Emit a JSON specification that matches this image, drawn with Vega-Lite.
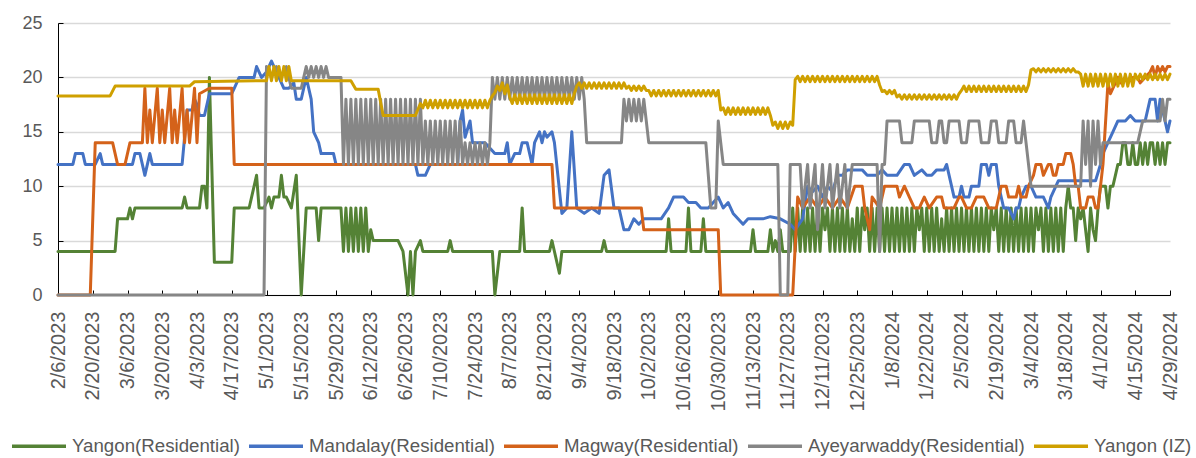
{
"$schema":"https://vega.github.io/schema/vega-lite/v6.json",
"width":1112,"height":272,
"autosize":{"type":"none"},
"padding":{"left":58,"top":23,"right":26,"bottom":163},
"background":"white",
"config":{"view":{"stroke":null},"font":"Liberation Sans"},
"datasets":{
"yr":[
{"d":"2023-02-06","v":4},{"d":"2023-03-01","v":4},{"d":"2023-03-02","v":7},{"d":"2023-03-06","v":7},{"d":"2023-03-07","v":8},{"d":"2023-03-08","v":7},{"d":"2023-03-09","v":8},{"d":"2023-03-28","v":8},{"d":"2023-03-29","v":9},{"d":"2023-03-30","v":8},{"d":"2023-04-04","v":8},{"d":"2023-04-05","v":10},{"d":"2023-04-06","v":10},{"d":"2023-04-07","v":8},{"d":"2023-04-08","v":20},{"d":"2023-04-10","v":3},{"d":"2023-04-17","v":3},{"d":"2023-04-18","v":8},{"d":"2023-04-24","v":8},{"d":"2023-04-25","v":9},{"d":"2023-04-27","v":11},{"d":"2023-04-28","v":8},{"d":"2023-04-30","v":8},{"d":"2023-05-02","v":9},{"d":"2023-05-03","v":8},{"d":"2023-05-04","v":9},{"d":"2023-05-06","v":9},{"d":"2023-05-07","v":11},{"d":"2023-05-08","v":9},{"d":"2023-05-09","v":9},{"d":"2023-05-11","v":8},{"d":"2023-05-13","v":11},{"d":"2023-05-15","v":0},{"d":"2023-05-17","v":8},{"d":"2023-05-21","v":8},{"d":"2023-05-22","v":5},{"d":"2023-05-23","v":8},{"d":"2023-05-31","v":8},
{"d":"2023-06-01","v":4},{"d":"2023-06-02","v":8},{"d":"2023-06-03","v":4},{"d":"2023-06-04","v":8},{"d":"2023-06-05","v":4},{"d":"2023-06-06","v":8},{"d":"2023-06-07","v":4},{"d":"2023-06-08","v":8},{"d":"2023-06-09","v":4},{"d":"2023-06-10","v":8},{"d":"2023-06-11","v":4},{"d":"2023-06-12","v":6},{"d":"2023-06-13","v":5},{"d":"2023-06-23","v":5},{"d":"2023-06-25","v":4},{"d":"2023-06-27","v":0},{"d":"2023-06-28","v":4},{"d":"2023-06-29","v":0},{"d":"2023-06-30","v":4},{"d":"2023-07-02","v":5},{"d":"2023-07-03","v":4},{"d":"2023-07-13","v":4},{"d":"2023-07-14","v":5},{"d":"2023-07-15","v":4},{"d":"2023-07-31","v":4},{"d":"2023-08-01","v":0},{"d":"2023-08-03","v":4},{"d":"2023-08-11","v":4},{"d":"2023-08-12","v":8},{"d":"2023-08-13","v":4},{"d":"2023-08-23","v":4},{"d":"2023-08-24","v":5},{"d":"2023-08-25","v":4},{"d":"2023-08-27","v":2},{"d":"2023-08-28","v":4},{"d":"2023-09-13","v":4},{"d":"2023-09-14","v":5},{"d":"2023-09-15","v":4},{"d":"2023-10-09","v":4},{"d":"2023-10-10","v":7},{"d":"2023-10-11","v":4},{"d":"2023-10-17","v":4},{"d":"2023-10-18","v":8},{"d":"2023-10-19","v":4},{"d":"2023-10-23","v":4},{"d":"2023-10-24","v":7},{"d":"2023-10-25","v":4},{"d":"2023-11-12","v":4},{"d":"2023-11-13","v":6},{"d":"2023-11-14","v":4},{"d":"2023-11-19","v":4},{"d":"2023-11-20","v":6},{"d":"2023-11-21","v":4},{"d":"2023-11-22","v":5},{"d":"2023-11-23","v":4},{"d":"2023-11-24","v":6},{"d":"2023-11-25","v":4},{"d":"2023-11-28","v":4},{"d":"2023-11-29","v":8},{"d":"2023-11-30","v":4},
{"d":"2023-12-01","v":8},{"d":"2023-12-02","v":4},{"d":"2023-12-03","v":8},{"d":"2023-12-04","v":4},{"d":"2023-12-05","v":8},{"d":"2023-12-06","v":4},{"d":"2023-12-07","v":8},{"d":"2023-12-08","v":4},{"d":"2023-12-09","v":8},{"d":"2023-12-10","v":4},{"d":"2023-12-11","v":8},{"d":"2023-12-12","v":6},{"d":"2023-12-13","v":8},{"d":"2023-12-14","v":4},{"d":"2023-12-15","v":8},{"d":"2023-12-16","v":4},{"d":"2023-12-17","v":8},{"d":"2023-12-18","v":4},{"d":"2023-12-19","v":8},{"d":"2023-12-20","v":4},{"d":"2023-12-21","v":8},{"d":"2023-12-22","v":4},{"d":"2023-12-23","v":7},{"d":"2023-12-24","v":4},{"d":"2023-12-25","v":8},{"d":"2023-12-26","v":4},{"d":"2023-12-27","v":8},{"d":"2023-12-28","v":6},{"d":"2023-12-29","v":8},{"d":"2023-12-30","v":4},{"d":"2023-12-31","v":8},
{"d":"2024-01-01","v":4},{"d":"2024-01-02","v":8},{"d":"2024-01-03","v":4},{"d":"2024-01-04","v":8},{"d":"2024-01-05","v":4},{"d":"2024-01-06","v":8},{"d":"2024-01-07","v":4},{"d":"2024-01-08","v":8},{"d":"2024-01-09","v":4},{"d":"2024-01-10","v":8},{"d":"2024-01-11","v":4},{"d":"2024-01-12","v":8},{"d":"2024-01-13","v":4},{"d":"2024-01-14","v":8},{"d":"2024-01-15","v":4},{"d":"2024-01-16","v":8},{"d":"2024-01-17","v":4},{"d":"2024-01-18","v":8},{"d":"2024-01-19","v":6},{"d":"2024-01-20","v":8},{"d":"2024-01-21","v":4},{"d":"2024-01-22","v":8},{"d":"2024-01-23","v":4},{"d":"2024-01-24","v":8},{"d":"2024-01-25","v":4},{"d":"2024-01-26","v":8},{"d":"2024-01-27","v":4},{"d":"2024-01-28","v":7},{"d":"2024-01-29","v":4},{"d":"2024-01-30","v":8},{"d":"2024-01-31","v":4},
{"d":"2024-02-01","v":8},{"d":"2024-02-02","v":4},{"d":"2024-02-03","v":8},{"d":"2024-02-04","v":4},{"d":"2024-02-05","v":8},{"d":"2024-02-06","v":4},{"d":"2024-02-07","v":8},{"d":"2024-02-08","v":4},{"d":"2024-02-09","v":8},{"d":"2024-02-10","v":4},{"d":"2024-02-11","v":8},{"d":"2024-02-12","v":4},{"d":"2024-02-13","v":8},{"d":"2024-02-14","v":4},{"d":"2024-02-15","v":8},{"d":"2024-02-16","v":4},{"d":"2024-02-17","v":8},{"d":"2024-02-18","v":6},{"d":"2024-02-19","v":8},{"d":"2024-02-20","v":4},{"d":"2024-02-21","v":8},{"d":"2024-02-22","v":4},{"d":"2024-02-23","v":8},{"d":"2024-02-24","v":4},{"d":"2024-02-25","v":8},{"d":"2024-02-26","v":4},{"d":"2024-02-27","v":8},{"d":"2024-02-28","v":4},{"d":"2024-02-29","v":8},
{"d":"2024-03-01","v":4},{"d":"2024-03-02","v":8},{"d":"2024-03-03","v":4},{"d":"2024-03-04","v":8},{"d":"2024-03-05","v":4},{"d":"2024-03-06","v":8},{"d":"2024-03-07","v":6},{"d":"2024-03-08","v":8},{"d":"2024-03-09","v":4},{"d":"2024-03-10","v":8},{"d":"2024-03-11","v":4},{"d":"2024-03-12","v":8},{"d":"2024-03-13","v":4},{"d":"2024-03-14","v":8},{"d":"2024-03-15","v":4},{"d":"2024-03-16","v":8},{"d":"2024-03-17","v":4},{"d":"2024-03-18","v":8},{"d":"2024-03-19","v":10},{"d":"2024-03-20","v":8},{"d":"2024-03-21","v":8},{"d":"2024-03-22","v":5},{"d":"2024-03-23","v":8},{"d":"2024-03-24","v":7},{"d":"2024-03-25","v":8},{"d":"2024-03-26","v":6},{"d":"2024-03-27","v":4},{"d":"2024-03-28","v":8},{"d":"2024-03-29","v":6},{"d":"2024-03-30","v":5},{"d":"2024-03-31","v":8},
{"d":"2024-04-01","v":10},{"d":"2024-04-02","v":10},{"d":"2024-04-03","v":10},{"d":"2024-04-04","v":8},{"d":"2024-04-05","v":10},{"d":"2024-04-06","v":10},{"d":"2024-04-07","v":11},{"d":"2024-04-08","v":12},{"d":"2024-04-09","v":12},{"d":"2024-04-10","v":14},{"d":"2024-04-11","v":14},{"d":"2024-04-12","v":12},{"d":"2024-04-13","v":12},{"d":"2024-04-14","v":14},{"d":"2024-04-15","v":12},{"d":"2024-04-16","v":12},{"d":"2024-04-17","v":14},{"d":"2024-04-18","v":12},{"d":"2024-04-19","v":14},{"d":"2024-04-20","v":12},{"d":"2024-04-21","v":14},{"d":"2024-04-22","v":14},{"d":"2024-04-23","v":12},{"d":"2024-04-24","v":14},{"d":"2024-04-25","v":12},{"d":"2024-04-26","v":14},{"d":"2024-04-27","v":12},{"d":"2024-04-28","v":14},{"d":"2024-04-29","v":14}
],
"md":[
{"d":"2023-02-06","v":12},{"d":"2023-02-12","v":12},{"d":"2023-02-13","v":13},{"d":"2023-02-16","v":13},{"d":"2023-02-17","v":12},{"d":"2023-02-21","v":12},{"d":"2023-02-23","v":13},{"d":"2023-02-24","v":12},{"d":"2023-03-08","v":12},{"d":"2023-03-09","v":13},{"d":"2023-03-11","v":13},{"d":"2023-03-13","v":11},{"d":"2023-03-15","v":13},{"d":"2023-03-16","v":12},{"d":"2023-03-28","v":12},{"d":"2023-03-30","v":17},{"d":"2023-04-01","v":17},{"d":"2023-04-02","v":18},{"d":"2023-04-03","v":17.5},{"d":"2023-04-04","v":16.5},{"d":"2023-04-06","v":16.5},{"d":"2023-04-08","v":18.5},{"d":"2023-04-17","v":18.5},{"d":"2023-04-18","v":19},{"d":"2023-04-20","v":20},{"d":"2023-04-26","v":20},{"d":"2023-04-27","v":21},{"d":"2023-04-29","v":20},{"d":"2023-05-01","v":20.5},{"d":"2023-05-03","v":21.5},{"d":"2023-05-06","v":20},{"d":"2023-05-08","v":19},{"d":"2023-05-10","v":19},{"d":"2023-05-12","v":19.5},{"d":"2023-05-13","v":18},{"d":"2023-05-15","v":18},{"d":"2023-05-16","v":19},{"d":"2023-05-17","v":20},{"d":"2023-05-19","v":18},{"d":"2023-05-20","v":15},{"d":"2023-05-22","v":14},{"d":"2023-05-23","v":13},{"d":"2023-05-28","v":13},{"d":"2023-05-29","v":12},{"d":"2023-06-30","v":12},{"d":"2023-07-01","v":11},{"d":"2023-07-04","v":11},{"d":"2023-07-06","v":12},{"d":"2023-07-17","v":12},{"d":"2023-07-18","v":16},{"d":"2023-07-19","v":17},{"d":"2023-07-20","v":14.5},{"d":"2023-07-22","v":16},{"d":"2023-07-23","v":14},{"d":"2023-07-28","v":14},{"d":"2023-08-01","v":13},{"d":"2023-08-05","v":13},{"d":"2023-08-06","v":14},{"d":"2023-08-07","v":12},{"d":"2023-08-09","v":13},{"d":"2023-08-11","v":13},{"d":"2023-08-12","v":14},{"d":"2023-08-14","v":14},{"d":"2023-08-16","v":12},{"d":"2023-08-17","v":14},{"d":"2023-08-19","v":15},{"d":"2023-08-20","v":14},{"d":"2023-08-21","v":15},{"d":"2023-08-22","v":14.5},{"d":"2023-08-24","v":15},{"d":"2023-08-25","v":14},{"d":"2023-08-28","v":7.5},{"d":"2023-08-30","v":8},{"d":"2023-09-01","v":15},{"d":"2023-09-03","v":8},{"d":"2023-09-06","v":7.5},{"d":"2023-09-09","v":8},{"d":"2023-09-12","v":7.5},{"d":"2023-09-14","v":11},{"d":"2023-09-16","v":11.5},{"d":"2023-09-18","v":8},{"d":"2023-09-20","v":8},{"d":"2023-09-22","v":6},{"d":"2023-09-24","v":6},{"d":"2023-09-26","v":7},{"d":"2023-09-28","v":6.5},{"d":"2023-09-30","v":7},{"d":"2023-10-07","v":7},{"d":"2023-10-10","v":8},{"d":"2023-10-12","v":9},{"d":"2023-10-16","v":9},{"d":"2023-10-18","v":8.5},{"d":"2023-10-21","v":8.5},{"d":"2023-10-23","v":8},{"d":"2023-10-26","v":8},{"d":"2023-10-30","v":9},{"d":"2023-11-01","v":8},{"d":"2023-11-03","v":8.5},{"d":"2023-11-05","v":7.5},{"d":"2023-11-09","v":6.5},{"d":"2023-11-11","v":7},{"d":"2023-11-17","v":7},{"d":"2023-11-20","v":7.2},{"d":"2023-11-24","v":7},{"d":"2023-11-28","v":6.5},{"d":"2023-11-30","v":6},{"d":"2023-12-03","v":7},{"d":"2023-12-05","v":10},{"d":"2023-12-07","v":9.5},{"d":"2023-12-09","v":10},{"d":"2023-12-11","v":9},{"d":"2023-12-13","v":10},{"d":"2023-12-15","v":9.5},{"d":"2023-12-17","v":11},{"d":"2023-12-19","v":11},{"d":"2023-12-21","v":11.5},{"d":"2023-12-27","v":11.5},{"d":"2023-12-29","v":11},{"d":"2024-01-02","v":11},{"d":"2024-01-04","v":11.5},{"d":"2024-01-06","v":11},{"d":"2024-01-10","v":11},{"d":"2024-01-13","v":12},{"d":"2024-01-15","v":12},{"d":"2024-01-17","v":11},{"d":"2024-01-20","v":11.5},{"d":"2024-01-22","v":11},{"d":"2024-01-24","v":11},{"d":"2024-01-26","v":11.5},{"d":"2024-01-29","v":11.5},{"d":"2024-01-30","v":12},{"d":"2024-02-01","v":10},{"d":"2024-02-02","v":9},{"d":"2024-02-04","v":9},{"d":"2024-02-05","v":10},{"d":"2024-02-06","v":9},{"d":"2024-02-08","v":9},{"d":"2024-02-09","v":10},{"d":"2024-02-12","v":10},{"d":"2024-02-13","v":12},{"d":"2024-02-15","v":12},{"d":"2024-02-16","v":11},{"d":"2024-02-17","v":12},{"d":"2024-02-19","v":12},{"d":"2024-02-20","v":10},{"d":"2024-02-22","v":8},{"d":"2024-02-24","v":8},{"d":"2024-02-26","v":7},{"d":"2024-02-27","v":8},{"d":"2024-02-28","v":8},{"d":"2024-02-29","v":9},{"d":"2024-03-02","v":10},{"d":"2024-03-04","v":10},{"d":"2024-03-06","v":9},{"d":"2024-03-09","v":9},{"d":"2024-03-11","v":8},{"d":"2024-03-12","v":9},{"d":"2024-03-15","v":10.5},{"d":"2024-03-30","v":10.5},{"d":"2024-04-01","v":12},{"d":"2024-04-02","v":13},{"d":"2024-04-04","v":14},{"d":"2024-04-06","v":15},{"d":"2024-04-08","v":16},{"d":"2024-04-11","v":16},{"d":"2024-04-13","v":16.5},{"d":"2024-04-15","v":16},{"d":"2024-04-19","v":16},{"d":"2024-04-21","v":18},{"d":"2024-04-23","v":18},{"d":"2024-04-24","v":16},{"d":"2024-04-25","v":18},{"d":"2024-04-27","v":16},{"d":"2024-04-28","v":15},{"d":"2024-04-29","v":16}
],
"mg":[
{"d":"2023-02-06","v":0},{"d":"2023-02-19","v":0},{"d":"2023-02-21","v":14},{"d":"2023-02-28","v":14},{"d":"2023-03-02","v":12},{"d":"2023-03-05","v":12},{"d":"2023-03-07","v":14},{"d":"2023-03-12","v":14},{"d":"2023-03-13","v":19},{"d":"2023-03-14","v":14},{"d":"2023-03-15","v":17},{"d":"2023-03-16","v":14},{"d":"2023-03-18","v":19},{"d":"2023-03-19","v":14},{"d":"2023-03-20","v":17},{"d":"2023-03-21","v":14},{"d":"2023-03-23","v":19},{"d":"2023-03-24","v":14},{"d":"2023-03-25","v":17},{"d":"2023-03-26","v":14},{"d":"2023-03-28","v":19},{"d":"2023-03-29","v":14},{"d":"2023-03-30","v":17},{"d":"2023-03-31","v":14},{"d":"2023-04-02","v":19},{"d":"2023-04-03","v":14},{"d":"2023-04-04","v":18.5},{"d":"2023-04-08","v":19},{"d":"2023-04-17","v":19},{"d":"2023-04-18","v":12},{"d":"2023-08-24","v":12},{"d":"2023-08-25","v":8},{"d":"2023-09-29","v":8},{"d":"2023-09-30","v":6},{"d":"2023-10-30","v":6},{"d":"2023-10-31","v":0},{"d":"2023-11-29","v":0},{"d":"2023-12-01","v":9},{"d":"2023-12-03","v":8},{"d":"2023-12-06","v":9},{"d":"2023-12-09","v":8},{"d":"2023-12-12","v":9},{"d":"2023-12-15","v":8},{"d":"2023-12-18","v":9},{"d":"2023-12-21","v":8},{"d":"2023-12-24","v":10},{"d":"2023-12-27","v":10},{"d":"2023-12-28","v":8},{"d":"2023-12-30","v":6},{"d":"2023-12-31","v":9},{"d":"2024-01-03","v":8},{"d":"2024-01-05","v":10},{"d":"2024-01-10","v":10},{"d":"2024-01-11","v":9},{"d":"2024-01-13","v":10},{"d":"2024-01-15","v":9},{"d":"2024-01-17","v":8},{"d":"2024-01-19","v":8},{"d":"2024-01-21","v":9},{"d":"2024-01-23","v":8},{"d":"2024-01-26","v":9},{"d":"2024-01-28","v":9},{"d":"2024-01-29","v":8},{"d":"2024-02-02","v":8},{"d":"2024-02-04","v":9},{"d":"2024-02-05","v":9},{"d":"2024-02-07","v":8},{"d":"2024-02-09","v":8},{"d":"2024-02-11","v":9},{"d":"2024-02-14","v":9},{"d":"2024-02-16","v":8},{"d":"2024-02-19","v":8},{"d":"2024-02-20","v":9},{"d":"2024-02-21","v":10},{"d":"2024-02-23","v":10},{"d":"2024-02-24","v":9},{"d":"2024-02-27","v":9},{"d":"2024-02-28","v":10},{"d":"2024-02-29","v":9},{"d":"2024-03-02","v":9},{"d":"2024-03-03","v":10},{"d":"2024-03-05","v":11},{"d":"2024-03-06","v":12},{"d":"2024-03-08","v":12},{"d":"2024-03-09","v":11},{"d":"2024-03-11","v":12},{"d":"2024-03-12","v":12},{"d":"2024-03-13","v":11},{"d":"2024-03-14","v":11},{"d":"2024-03-15","v":12},{"d":"2024-03-17","v":12},{"d":"2024-03-18","v":13},{"d":"2024-03-20","v":13},{"d":"2024-03-21","v":12},{"d":"2024-03-22","v":10},{"d":"2024-03-23","v":10},{"d":"2024-03-24","v":8},{"d":"2024-03-26","v":8},{"d":"2024-03-27","v":9},{"d":"2024-03-29","v":9},{"d":"2024-03-30","v":8},{"d":"2024-03-31","v":8},{"d":"2024-04-02","v":12},{"d":"2024-04-04","v":19.5},{"d":"2024-04-05","v":18.5},{"d":"2024-04-07","v":19.5},{"d":"2024-04-08","v":20},{"d":"2024-04-09","v":19.5},{"d":"2024-04-11","v":20},{"d":"2024-04-12","v":19.5},{"d":"2024-04-14","v":20},{"d":"2024-04-16","v":20},{"d":"2024-04-17","v":19.5},{"d":"2024-04-19","v":20},{"d":"2024-04-21","v":20.5},{"d":"2024-04-22","v":21},{"d":"2024-04-23","v":20},{"d":"2024-04-24","v":21},{"d":"2024-04-25","v":20.5},{"d":"2024-04-26","v":21},{"d":"2024-04-27","v":20.5},{"d":"2024-04-28","v":21},{"d":"2024-04-29","v":21}
],
"ay":[
{"d":"2023-02-06","v":0},{"d":"2023-04-30","v":0},{"d":"2023-05-01","v":21},{"d":"2023-05-03","v":20},{"d":"2023-05-05","v":21},{"d":"2023-05-07","v":20},{"d":"2023-05-09","v":21},{"d":"2023-05-11","v":19},{"d":"2023-05-15","v":19},{"d":"2023-05-16","v":20},{"d":"2023-05-17","v":21},{"d":"2023-05-18","v":20},{"d":"2023-05-19","v":21},{"d":"2023-05-20","v":20},{"d":"2023-05-21","v":21},{"d":"2023-05-22","v":20},{"d":"2023-05-23","v":21},{"d":"2023-05-24","v":20},{"d":"2023-05-25","v":21},{"d":"2023-05-26","v":20},{"d":"2023-05-31","v":20},{"d":"2023-06-01","v":12},
{"d":"2023-06-02","v":18},{"d":"2023-06-03","v":12},{"d":"2023-06-04","v":18},{"d":"2023-06-05","v":12},{"d":"2023-06-06","v":18},{"d":"2023-06-07","v":12},{"d":"2023-06-08","v":18},{"d":"2023-06-09","v":12},{"d":"2023-06-10","v":18},{"d":"2023-06-11","v":12},{"d":"2023-06-12","v":18},{"d":"2023-06-13","v":12},{"d":"2023-06-14","v":18},{"d":"2023-06-15","v":12},{"d":"2023-06-16","v":18},{"d":"2023-06-17","v":12},{"d":"2023-06-18","v":18},{"d":"2023-06-19","v":12},{"d":"2023-06-20","v":18},{"d":"2023-06-21","v":12},{"d":"2023-06-22","v":18},{"d":"2023-06-23","v":12},{"d":"2023-06-24","v":18},{"d":"2023-06-25","v":12},{"d":"2023-06-26","v":18},{"d":"2023-06-27","v":12},{"d":"2023-06-28","v":18},{"d":"2023-06-29","v":12},{"d":"2023-06-30","v":18},{"d":"2023-07-01","v":12},{"d":"2023-07-02","v":18},
{"d":"2023-07-03","v":12},{"d":"2023-07-04","v":16},{"d":"2023-07-05","v":12},{"d":"2023-07-06","v":16},{"d":"2023-07-07","v":12},{"d":"2023-07-08","v":16},{"d":"2023-07-09","v":12},{"d":"2023-07-10","v":16},{"d":"2023-07-11","v":12},{"d":"2023-07-12","v":16},{"d":"2023-07-13","v":12},{"d":"2023-07-14","v":16},{"d":"2023-07-15","v":12},{"d":"2023-07-16","v":16},{"d":"2023-07-17","v":12},{"d":"2023-07-18","v":16},{"d":"2023-07-19","v":12},
{"d":"2023-07-20","v":14},{"d":"2023-07-21","v":12},{"d":"2023-07-22","v":14},{"d":"2023-07-23","v":12},{"d":"2023-07-24","v":14},{"d":"2023-07-25","v":12},{"d":"2023-07-26","v":14},{"d":"2023-07-27","v":12},{"d":"2023-07-28","v":14},{"d":"2023-07-29","v":12},{"d":"2023-07-30","v":14},
{"d":"2023-07-31","v":20},{"d":"2023-08-01","v":18},{"d":"2023-08-02","v":20},{"d":"2023-08-03","v":18},{"d":"2023-08-04","v":20},{"d":"2023-08-05","v":18},{"d":"2023-08-06","v":20},{"d":"2023-08-07","v":18},{"d":"2023-08-08","v":20},{"d":"2023-08-09","v":18},{"d":"2023-08-10","v":20},{"d":"2023-08-11","v":18},{"d":"2023-08-12","v":20},{"d":"2023-08-13","v":18},{"d":"2023-08-14","v":20},{"d":"2023-08-15","v":18},{"d":"2023-08-16","v":20},{"d":"2023-08-17","v":18},{"d":"2023-08-18","v":20},{"d":"2023-08-19","v":18},{"d":"2023-08-20","v":20},{"d":"2023-08-21","v":18},{"d":"2023-08-22","v":20},{"d":"2023-08-23","v":18},{"d":"2023-08-24","v":20},{"d":"2023-08-25","v":18},{"d":"2023-08-26","v":20},{"d":"2023-08-27","v":18},{"d":"2023-08-28","v":20},{"d":"2023-08-29","v":18},{"d":"2023-08-30","v":20},{"d":"2023-08-31","v":18},{"d":"2023-09-01","v":20},{"d":"2023-09-02","v":18},{"d":"2023-09-03","v":20},{"d":"2023-09-04","v":18},{"d":"2023-09-05","v":20},{"d":"2023-09-06","v":18},{"d":"2023-09-07","v":14},{"d":"2023-09-21","v":14},{"d":"2023-09-22","v":18},{"d":"2023-09-23","v":16},{"d":"2023-09-24","v":18},{"d":"2023-09-25","v":16},{"d":"2023-09-26","v":18},{"d":"2023-09-27","v":16},{"d":"2023-09-28","v":18},{"d":"2023-09-29","v":16},{"d":"2023-09-30","v":18},{"d":"2023-10-01","v":16},{"d":"2023-10-02","v":14},{"d":"2023-10-25","v":14},{"d":"2023-10-27","v":8},{"d":"2023-10-29","v":8},{"d":"2023-10-30","v":16},{"d":"2023-11-01","v":12},{"d":"2023-11-23","v":12},{"d":"2023-11-24","v":0},{"d":"2023-11-27","v":0},{"d":"2023-11-28","v":12},{"d":"2023-12-02","v":12},{"d":"2023-12-03","v":8},{"d":"2023-12-05","v":12},{"d":"2023-12-06","v":8},{"d":"2023-12-08","v":12},{"d":"2023-12-09","v":6},{"d":"2023-12-11","v":12},{"d":"2023-12-12","v":8},{"d":"2023-12-14","v":12},{"d":"2023-12-15","v":8},{"d":"2023-12-17","v":12},{"d":"2023-12-18","v":8},{"d":"2023-12-20","v":12},{"d":"2023-12-21","v":8},{"d":"2023-12-23","v":12},{"d":"2024-01-02","v":12},{"d":"2024-01-03","v":4},{"d":"2024-01-04","v":12},{"d":"2024-01-05","v":12},{"d":"2024-01-06","v":16},{"d":"2024-01-11","v":16},{"d":"2024-01-12","v":14},{"d":"2024-01-16","v":14},{"d":"2024-01-17","v":16},{"d":"2024-01-23","v":16},{"d":"2024-01-24","v":14},{"d":"2024-01-26","v":14},{"d":"2024-01-27","v":16},{"d":"2024-01-28","v":16},{"d":"2024-01-29","v":14},{"d":"2024-01-30","v":14},{"d":"2024-01-31","v":16},{"d":"2024-02-04","v":16},{"d":"2024-02-05","v":14},{"d":"2024-02-07","v":14},{"d":"2024-02-08","v":16},{"d":"2024-02-12","v":16},{"d":"2024-02-13","v":14},{"d":"2024-02-16","v":14},{"d":"2024-02-17","v":16},{"d":"2024-02-19","v":16},{"d":"2024-02-20","v":14},{"d":"2024-02-23","v":14},{"d":"2024-02-24","v":16},{"d":"2024-02-26","v":16},{"d":"2024-02-27","v":14},{"d":"2024-02-29","v":14},{"d":"2024-03-01","v":16},{"d":"2024-03-02","v":14},{"d":"2024-03-03","v":12},{"d":"2024-03-04","v":10},{"d":"2024-03-24","v":10},{"d":"2024-03-25","v":16},{"d":"2024-03-26","v":12},{"d":"2024-03-27","v":16},{"d":"2024-03-28","v":10},{"d":"2024-03-29","v":16},{"d":"2024-03-30","v":12},{"d":"2024-03-31","v":16},{"d":"2024-04-01","v":12},{"d":"2024-04-02","v":14},{"d":"2024-04-16","v":14},{"d":"2024-04-18","v":16},{"d":"2024-04-25","v":16},{"d":"2024-04-26","v":18},{"d":"2024-04-27","v":16},{"d":"2024-04-28","v":18},{"d":"2024-04-29","v":18}
],
"iz":[
{"d":"2023-02-06","v":18.3},{"d":"2023-02-27","v":18.3},{"d":"2023-03-01","v":19.2},{"d":"2023-03-31","v":19.2},{"d":"2023-04-02","v":19.6},{"d":"2023-05-01","v":19.7},{"d":"2023-05-02","v":21},{"d":"2023-05-03","v":19.7},{"d":"2023-05-04","v":21},{"d":"2023-05-05","v":19.7},{"d":"2023-05-06","v":21},{"d":"2023-05-07","v":19.7},{"d":"2023-05-08","v":21},{"d":"2023-05-09","v":19.7},{"d":"2023-05-10","v":21},{"d":"2023-05-11","v":19.7},{"d":"2023-06-04","v":19.7},{"d":"2023-06-06","v":18.9},{"d":"2023-06-15","v":18.9},{"d":"2023-06-17","v":16.5},{"d":"2023-06-30","v":16.5},{"d":"2023-07-02","v":17.6},
{"d":"2023-07-03","v":17.2},{"d":"2023-07-04","v":17.9},{"d":"2023-07-05","v":17.2},{"d":"2023-07-06","v":17.9},{"d":"2023-07-07","v":17.2},{"d":"2023-07-08","v":17.9},{"d":"2023-07-09","v":17.2},{"d":"2023-07-10","v":17.9},{"d":"2023-07-11","v":17.2},{"d":"2023-07-12","v":17.9},{"d":"2023-07-13","v":17.2},{"d":"2023-07-14","v":17.9},{"d":"2023-07-15","v":17.2},{"d":"2023-07-16","v":17.9},{"d":"2023-07-17","v":17.2},{"d":"2023-07-18","v":17.9},{"d":"2023-07-19","v":17.2},{"d":"2023-07-20","v":17.9},{"d":"2023-07-21","v":17.2},{"d":"2023-07-22","v":17.9},{"d":"2023-07-23","v":17.2},{"d":"2023-07-24","v":17.9},{"d":"2023-07-25","v":17.2},{"d":"2023-07-26","v":17.9},{"d":"2023-07-27","v":17.2},{"d":"2023-07-28","v":17.9},{"d":"2023-07-29","v":17.2},{"d":"2023-07-30","v":17.9},{"d":"2023-07-31","v":18.3},
{"d":"2023-08-01","v":18.6},{"d":"2023-08-02","v":19.2},{"d":"2023-08-03","v":18.8},{"d":"2023-08-04","v":19.5},{"d":"2023-08-05","v":18.5},{"d":"2023-08-06","v":19.3},{"d":"2023-08-07","v":18.2},{"d":"2023-08-08","v":17.6},{"d":"2023-08-09","v":18.4},{"d":"2023-08-10","v":17.6},{"d":"2023-08-11","v":18.4},{"d":"2023-08-12","v":17.6},{"d":"2023-08-13","v":18.4},{"d":"2023-08-14","v":17.6},{"d":"2023-08-15","v":18.4},{"d":"2023-08-16","v":17.6},{"d":"2023-08-17","v":18.4},{"d":"2023-08-18","v":17.6},{"d":"2023-08-19","v":18.4},{"d":"2023-08-20","v":17.6},{"d":"2023-08-21","v":18.4},{"d":"2023-08-22","v":17.6},{"d":"2023-08-23","v":18.4},{"d":"2023-08-24","v":17.6},{"d":"2023-08-25","v":18.4},{"d":"2023-08-26","v":17.6},{"d":"2023-08-27","v":18.4},{"d":"2023-08-28","v":17.6},{"d":"2023-08-29","v":18.4},{"d":"2023-08-30","v":17.6},{"d":"2023-08-31","v":18.4},{"d":"2023-09-01","v":17.6},{"d":"2023-09-02","v":18.5},{"d":"2023-09-03","v":19.2},
{"d":"2023-09-04","v":19.5},{"d":"2023-09-05","v":19},{"d":"2023-09-06","v":19.5},{"d":"2023-09-07","v":19},{"d":"2023-09-08","v":19.5},{"d":"2023-09-09","v":19},{"d":"2023-09-10","v":19.5},{"d":"2023-09-11","v":19},{"d":"2023-09-12","v":19.5},{"d":"2023-09-13","v":19},{"d":"2023-09-14","v":19.5},{"d":"2023-09-15","v":19},{"d":"2023-09-16","v":19.5},{"d":"2023-09-17","v":19},{"d":"2023-09-18","v":19.5},{"d":"2023-09-19","v":19},{"d":"2023-09-20","v":19.5},{"d":"2023-09-21","v":19},{"d":"2023-09-22","v":19.5},{"d":"2023-09-23","v":19},{"d":"2023-09-24","v":19.2},{"d":"2023-09-25","v":18.8},{"d":"2023-09-26","v":19.2},{"d":"2023-09-27","v":18.8},{"d":"2023-09-28","v":19.2},{"d":"2023-09-29","v":18.8},{"d":"2023-09-30","v":19.2},{"d":"2023-10-01","v":18.8},
{"d":"2023-10-02","v":18.8},{"d":"2023-10-03","v":18.3},{"d":"2023-10-04","v":18.8},{"d":"2023-10-05","v":18.3},{"d":"2023-10-06","v":18.8},{"d":"2023-10-07","v":18.3},{"d":"2023-10-08","v":18.8},{"d":"2023-10-09","v":18.3},{"d":"2023-10-10","v":18.8},{"d":"2023-10-11","v":18.3},{"d":"2023-10-12","v":18.8},{"d":"2023-10-13","v":18.3},{"d":"2023-10-14","v":18.8},{"d":"2023-10-15","v":18.3},{"d":"2023-10-16","v":18.8},{"d":"2023-10-17","v":18.3},{"d":"2023-10-18","v":18.8},{"d":"2023-10-19","v":18.3},{"d":"2023-10-20","v":18.8},{"d":"2023-10-21","v":18.3},{"d":"2023-10-22","v":18.8},{"d":"2023-10-23","v":18.3},{"d":"2023-10-24","v":18.8},{"d":"2023-10-25","v":18.3},{"d":"2023-10-26","v":18.8},{"d":"2023-10-27","v":18.3},{"d":"2023-10-28","v":18.8},{"d":"2023-10-29","v":18.3},{"d":"2023-10-30","v":18.8},{"d":"2023-10-31","v":17},
{"d":"2023-11-01","v":17.2},{"d":"2023-11-02","v":16.6},{"d":"2023-11-03","v":17.2},{"d":"2023-11-04","v":16.6},{"d":"2023-11-05","v":17.2},{"d":"2023-11-06","v":16.6},{"d":"2023-11-07","v":17.2},{"d":"2023-11-08","v":16.6},{"d":"2023-11-09","v":17.2},{"d":"2023-11-10","v":16.6},{"d":"2023-11-11","v":17.2},{"d":"2023-11-12","v":16.6},{"d":"2023-11-13","v":17.2},{"d":"2023-11-14","v":16.6},{"d":"2023-11-15","v":17.2},{"d":"2023-11-16","v":16.6},{"d":"2023-11-17","v":17.2},{"d":"2023-11-18","v":16.6},{"d":"2023-11-19","v":17.2},{"d":"2023-11-20","v":16.5},{"d":"2023-11-21","v":15.6},{"d":"2023-11-22","v":15.9},{"d":"2023-11-23","v":15.3},{"d":"2023-11-24","v":15.9},{"d":"2023-11-25","v":15.3},{"d":"2023-11-26","v":15.9},{"d":"2023-11-27","v":15.3},{"d":"2023-11-28","v":15.9},{"d":"2023-11-29","v":15.6},{"d":"2023-11-30","v":19.8},
{"d":"2023-12-01","v":20.1},{"d":"2023-12-02","v":19.6},{"d":"2023-12-03","v":20.1},{"d":"2023-12-04","v":19.6},{"d":"2023-12-05","v":20.1},{"d":"2023-12-06","v":19.6},{"d":"2023-12-07","v":20.1},{"d":"2023-12-08","v":19.6},{"d":"2023-12-09","v":20.1},{"d":"2023-12-10","v":19.6},{"d":"2023-12-11","v":20.1},{"d":"2023-12-12","v":19.6},{"d":"2023-12-13","v":20.1},{"d":"2023-12-14","v":19.6},{"d":"2023-12-15","v":20.1},{"d":"2023-12-16","v":19.6},{"d":"2023-12-17","v":20.1},{"d":"2023-12-18","v":19.6},{"d":"2023-12-19","v":20.1},{"d":"2023-12-20","v":19.6},{"d":"2023-12-21","v":20.1},{"d":"2023-12-22","v":19.6},{"d":"2023-12-23","v":20.1},{"d":"2023-12-24","v":19.6},{"d":"2023-12-25","v":20.1},{"d":"2023-12-26","v":19.6},{"d":"2023-12-27","v":20.1},{"d":"2023-12-28","v":19.6},{"d":"2023-12-29","v":20.1},{"d":"2023-12-30","v":19.6},{"d":"2023-12-31","v":20.1},{"d":"2024-01-01","v":19.6},{"d":"2024-01-02","v":20.1},{"d":"2024-01-03","v":19.3},{"d":"2024-01-04","v":18.7},{"d":"2024-01-05","v":18.8},{"d":"2024-01-06","v":18.5},{"d":"2024-01-07","v":18.8},{"d":"2024-01-08","v":18.5},{"d":"2024-01-09","v":18.8},{"d":"2024-01-10","v":18.2},
{"d":"2024-01-11","v":18.4},{"d":"2024-01-12","v":18},{"d":"2024-01-13","v":18.4},{"d":"2024-01-14","v":18},{"d":"2024-01-15","v":18.4},{"d":"2024-01-16","v":18},{"d":"2024-01-17","v":18.4},{"d":"2024-01-18","v":18},{"d":"2024-01-19","v":18.4},{"d":"2024-01-20","v":18},{"d":"2024-01-21","v":18.4},{"d":"2024-01-22","v":18},{"d":"2024-01-23","v":18.4},{"d":"2024-01-24","v":18},{"d":"2024-01-25","v":18.4},{"d":"2024-01-26","v":18},{"d":"2024-01-27","v":18.4},{"d":"2024-01-28","v":18},{"d":"2024-01-29","v":18.4},{"d":"2024-01-30","v":18},{"d":"2024-01-31","v":18.4},{"d":"2024-02-01","v":18},{"d":"2024-02-02","v":18.4},{"d":"2024-02-03","v":18},{"d":"2024-02-04","v":18.5},{"d":"2024-02-05","v":18.8},
{"d":"2024-02-06","v":19.2},{"d":"2024-02-07","v":18.7},{"d":"2024-02-08","v":19.2},{"d":"2024-02-09","v":18.7},{"d":"2024-02-10","v":19.2},{"d":"2024-02-11","v":18.7},{"d":"2024-02-12","v":19.2},{"d":"2024-02-13","v":18.7},{"d":"2024-02-14","v":19.2},{"d":"2024-02-15","v":18.7},{"d":"2024-02-16","v":19.2},{"d":"2024-02-17","v":18.7},{"d":"2024-02-18","v":19.2},{"d":"2024-02-19","v":18.7},{"d":"2024-02-20","v":19.2},{"d":"2024-02-21","v":18.7},{"d":"2024-02-22","v":19.2},{"d":"2024-02-23","v":18.7},{"d":"2024-02-24","v":19.2},{"d":"2024-02-25","v":18.7},{"d":"2024-02-26","v":19.2},{"d":"2024-02-27","v":18.7},{"d":"2024-02-28","v":19.2},{"d":"2024-02-29","v":18.7},{"d":"2024-03-01","v":19.2},{"d":"2024-03-02","v":18.7},{"d":"2024-03-03","v":19.3},{"d":"2024-03-04","v":20.7},
{"d":"2024-03-05","v":20.8},{"d":"2024-03-06","v":20.5},{"d":"2024-03-07","v":20.8},{"d":"2024-03-08","v":20.5},{"d":"2024-03-09","v":20.8},{"d":"2024-03-10","v":20.5},{"d":"2024-03-11","v":20.8},{"d":"2024-03-12","v":20.5},{"d":"2024-03-13","v":20.8},{"d":"2024-03-14","v":20.5},{"d":"2024-03-15","v":20.8},{"d":"2024-03-16","v":20.5},{"d":"2024-03-17","v":20.8},{"d":"2024-03-18","v":20.5},{"d":"2024-03-19","v":20.8},{"d":"2024-03-20","v":20.5},{"d":"2024-03-21","v":20.8},{"d":"2024-03-22","v":20.5},{"d":"2024-03-23","v":20.5},
{"d":"2024-03-24","v":20.3},{"d":"2024-03-25","v":19.2},{"d":"2024-03-26","v":20.3},{"d":"2024-03-27","v":19.2},{"d":"2024-03-28","v":20.3},{"d":"2024-03-29","v":19.2},{"d":"2024-03-30","v":20.3},{"d":"2024-03-31","v":19.2},{"d":"2024-04-01","v":20.3},{"d":"2024-04-02","v":19.2},{"d":"2024-04-03","v":20.3},{"d":"2024-04-04","v":19.2},{"d":"2024-04-05","v":20.3},{"d":"2024-04-06","v":19.2},{"d":"2024-04-07","v":20.3},{"d":"2024-04-08","v":19.2},{"d":"2024-04-09","v":20.3},{"d":"2024-04-10","v":19.2},{"d":"2024-04-11","v":20.3},{"d":"2024-04-12","v":19.2},{"d":"2024-04-13","v":20.3},{"d":"2024-04-14","v":19.2},{"d":"2024-04-15","v":20.3},{"d":"2024-04-16","v":19.8},{"d":"2024-04-17","v":20.3},{"d":"2024-04-18","v":19.8},{"d":"2024-04-19","v":20.3},{"d":"2024-04-20","v":19.8},{"d":"2024-04-21","v":20.3},{"d":"2024-04-22","v":19.8},{"d":"2024-04-23","v":20.3},{"d":"2024-04-24","v":19.8},{"d":"2024-04-25","v":20.3},{"d":"2024-04-26","v":19.8},{"d":"2024-04-27","v":20.3},{"d":"2024-04-28","v":19.8},{"d":"2024-04-29","v":20.3}
]
},
"encoding":{
"x":{"field":"d","type":"temporal","title":null,
"scale":{"type":"utc","domain":[1675641600000,1714348800000]},
"axis":{"values":[1675641600000,1676851200000,1678060800000,1679270400000,1680480000000,1681689600000,1682899200000,1684108800000,1685318400000,1686528000000,1687737600000,1688947200000,1690156800000,1691366400000,1692576000000,1693785600000,1694995200000,1696204800000,1697414400000,1698624000000,1699833600000,1701043200000,1702252800000,1703462400000,1704672000000,1705881600000,1707091200000,1708300800000,1709510400000,1710720000000,1711929600000,1713139200000,1714348800000],
"format":"%-m/%-d/%Y","labelAngle":-90,"labelFont":"Liberation Sans","labelFontSize":20,"labelColor":"#595959","labelPadding":21,"labelOverlap":false,"labelFlush":false,"labelBound":false,
"grid":false,"domainColor":"#000000","domainWidth":1,"tickColor":"#000000","tickSize":-5,"tickWidth":1}},
"y":{"field":"v","type":"quantitative","title":null,
"scale":{"domain":[0,25],"nice":false,"zero":true},
"axis":{"values":[0,5,10,15,20,25],"labelFont":"Liberation Sans","labelFontSize":18,"labelColor":"#595959","labelPadding":21,
"grid":true,"gridColor":"#D9D9D9","gridWidth":1.3,"domainColor":"#000000","domainWidth":1,"tickColor":"#000000","tickSize":-5,"tickWidth":1}}
},
"layer":[
{"data":{"name":"yr"},"mark":{"type":"line","strokeWidth":3,"strokeJoin":"round","strokeCap":"round"},
"encoding":{"color":{"datum":"Yangon(Residential)","type":"nominal",
"scale":{"domain":["Yangon(Residential)","Mandalay(Residential)","Magway(Residential)","Ayeyarwaddy(Residential)","Yangon (IZ)"],"range":["#548235","#4472C4","#D4621A","#868686","#CFA000"]},
"legend":{"title":null,"orient":"none","legendX":-48,"legendY":394,"direction":"horizontal","columns":5,"symbolType":"stroke","symbolSize":2916,"symbolStrokeWidth":3.5,"labelFont":"Liberation Sans","labelFontSize":18.7,"labelColor":"#595959","labelOffset":4,"columnPadding":2,"labelLimit":400,"padding":0}}}},
{"data":{"name":"md"},"mark":{"type":"line","strokeWidth":3,"strokeJoin":"round","strokeCap":"round"},
"encoding":{"color":{"datum":"Mandalay(Residential)","type":"nominal"}}},
{"data":{"name":"mg"},"mark":{"type":"line","strokeWidth":3,"strokeJoin":"round","strokeCap":"round"},
"encoding":{"color":{"datum":"Magway(Residential)","type":"nominal"}}},
{"data":{"name":"ay"},"mark":{"type":"line","strokeWidth":3,"strokeJoin":"round","strokeCap":"round"},
"encoding":{"color":{"datum":"Ayeyarwaddy(Residential)","type":"nominal"}}},
{"data":{"name":"iz"},"mark":{"type":"line","strokeWidth":3,"strokeJoin":"round","strokeCap":"round"},
"encoding":{"color":{"datum":"Yangon (IZ)","type":"nominal"}}}
]
}
